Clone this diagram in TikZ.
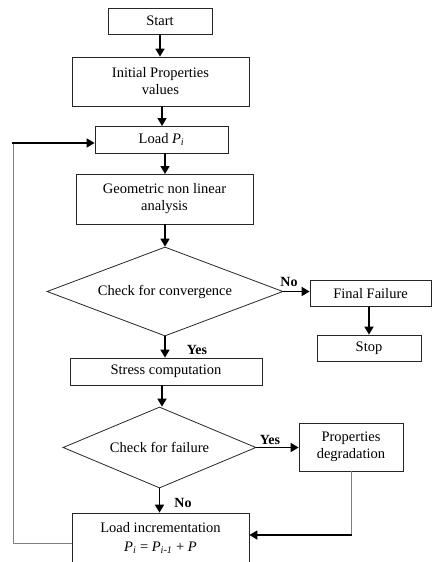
\documentclass[tikz,border=0pt]{standalone}
\usepackage{fontspec}
\setmainfont{Liberation Serif}
\usetikzlibrary{shapes.geometric,arrows.meta}
\begin{document}
\begin{tikzpicture}[x=1pt,y=-1pt,
  box/.style={draw=black!85,line width=0.8pt,rectangle,align=center,inner sep=1pt,font=\fontsize{14.5}{17}\selectfont},
  dia/.style={draw=black!85,line width=0.8pt,diamond,inner sep=0pt,font=\fontsize{14.5}{17}\selectfont},
  arr/.style={line width=1.7pt,-{Triangle[length=8pt,width=9pt]}},
  thinline/.style={draw=black!50,line width=0.9pt},
  lbl/.style={font=\bfseries\fontsize{14}{16}\selectfont,inner sep=0pt}]
\useasboundingbox (0,0) rectangle (432,562);
\node[box,minimum width=104pt,minimum height=26pt] (start) at (160,21) {Start};
\node[box,minimum width=177pt,minimum height=49pt] (init) at (160.5,81.5) {Initial Properties\\values};
\node[box,minimum width=133pt,minimum height=27pt] (load) at (161.5,139.5) {Load \textit{P}\textsubscript{\textit{i}}};
\node[box,minimum width=177pt,minimum height=50pt] (geo) at (164.5,199) {Geometric non linear\\analysis};
\node[dia,minimum width=236pt,minimum height=89pt,aspect=2.65] (conv) at (165,291.5) {Check for convergence};
\node[box,minimum width=121pt,minimum height=26pt] (final) at (370.5,293.5) {Final Failure};
\node[box,minimum width=104pt,minimum height=26pt] (stop) at (369,348) {Stop};
\node[box,minimum width=192pt,minimum height=27pt] (stress) at (166,371.5) {Stress computation};
\node[dia,minimum width=193pt,minimum height=81pt,aspect=2.38] (fail) at (159.5,447.5) {Check for failure};
\node[box,minimum width=104pt,minimum height=48pt] (degr) at (351,447) {Properties\\degradation};
\node[box,minimum width=177pt,minimum height=50pt,font=\fontsize{14.5}{19}\selectfont] (incr) at (160.5,538) {Load incrementation\\\textit{P}\textsubscript{\textit{i}} = \textit{P}\textsubscript{\textit{i-1}} + \textit{P}};

\draw[arr] (start.south) -- (start.south |- init.north);
\draw[arr] (162,106) -- (162,126);
\draw[arr] (165,153) -- (165,174);
\draw[arr] (geo.south -| conv.north) -- (conv.north);
\draw[arr] (conv.south) -- (conv.south |- stress.north);
\draw[arr] (162,385) -- (fail.north -| 162,0);
\draw[arr] (fail.south) -- (fail.south |- incr.north);
\draw[arr] (conv.east) -- (conv.east -| final.west);
\draw[arr] (final.south -| stop.north) -- (stop.north);
\draw[arr] (fail.east) -- (fail.east -| degr.west);

\coordinate (lb) at (13,543);
\coordinate (lt) at (13,143);
\draw[thinline] (incr.west |- lb) -- (lb) -- (lt);
\draw[arr,shorten <=-0.8pt] (lt) -- (lt -| load.west);
\coordinate (dc) at (351,535);
\draw[thinline] (degr.south) -- (dc);
\draw[arr,shorten <=-0.5pt] (dc) -- (dc -| incr.east);

\node[lbl] (no1) at (289,282) {No};
\node[lbl] (yes1) at (197,350) {Yes};
\node[lbl] (yes2) at (270,440) {Yes};
\node[lbl] (no2) at (183,503) {No};
\end{tikzpicture}
\end{document}
